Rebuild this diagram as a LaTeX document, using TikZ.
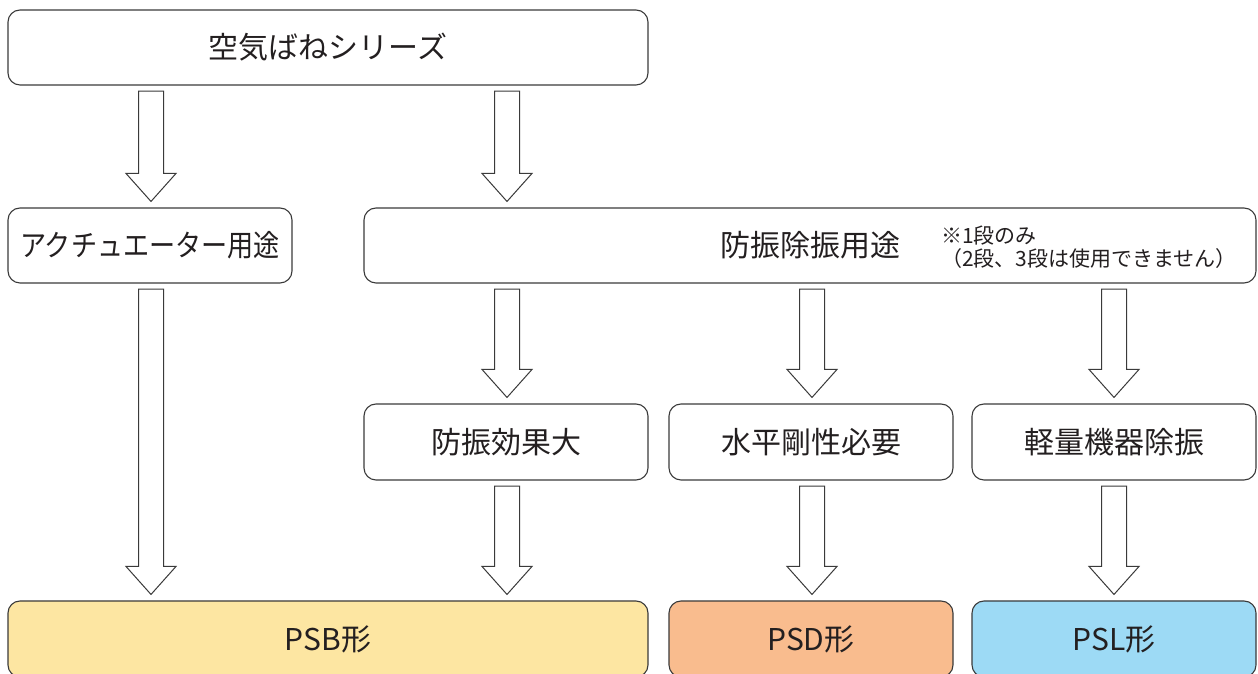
\documentclass[tikz,border=0pt]{standalone}
\usepackage{fontspec}
\setmainfont{Noto Sans CJK JP}
\usetikzlibrary{calc}
\definecolor{lineC}{HTML}{3A3A3A}
\definecolor{textC}{HTML}{231F20}
\definecolor{psbC}{HTML}{FDE6A2}
\definecolor{psdC}{HTML}{F9BC8E}
\definecolor{pslC}{HTML}{9DDAF5}
\tikzset{
  box/.style={draw=lineC, line width=1.1pt, rounded corners=12pt, inner sep=0pt,
    text=textC, font=\fontsize{30}{36}\selectfont, minimum height=75pt},
  wbox/.style={box, minimum width=284pt},
  barrowstyle/.style={draw=lineC, line width=1pt, fill=white, line join=miter},
}
\newcommand\barrow[3]{%
  \draw[barrowstyle] let \p1=(#2.south), \p2=(#3.north) in
   ({#1pt-12.5pt},{\y1-5.5pt}) -- ({#1pt+12.5pt},{\y1-5.5pt}) -- ({#1pt+12.5pt},{\y2+34pt})
   -- ({#1pt+25pt},{\y2+34pt}) -- (#1pt,{\y2+6pt}) -- ({#1pt-25pt},{\y2+34pt})
   -- ({#1pt-12.5pt},{\y2+34pt}) -- cycle;}
\begin{document}
\begin{tikzpicture}[x=1pt,y=1pt]
\useasboundingbox (0,0) rectangle (1258,674);
\clip (0,0) rectangle (1258,674);
% row 1
\node[box, minimum width=640pt] (top) at (328,626.5) {空気ばねシリーズ};
% row 2
\node[box, minimum width=284pt] (act) at (150,428.5) {\scalebox{0.87}[1]{アクチュエーター用途}};
\node[box, minimum width=892pt] (vib) at (810,428.5) {防振除振用途};
\node[anchor=north west, inner sep=0pt, align=left, text=textC,
  font=\fontsize{21}{22.5}\selectfont] (note) at (941,448) {※1段のみ\\（2段、3段は使用できません）};
% row 3
\node[wbox, minimum height=76pt] (eff) at (506,232) {防振効果大};
\node[wbox, minimum height=76pt] (hor) at (811,232) {水平剛性必要};
\node[wbox, minimum height=76pt] (lig) at (1114,232) {軽量機器除振};
% row 4
\node[box, minimum width=640pt, minimum height=76pt, fill=psbC] (psb) at (328,35) {PSB形};
\node[wbox, minimum height=76pt, fill=psdC] (psd) at (811,35) {PSD形};
\node[wbox, minimum height=76pt, fill=pslC] (psl) at (1114,35) {PSL形};
% arrows
\barrow{151}{top}{act}
\barrow{507}{top}{vib}
\barrow{151}{act}{psb}
\barrow{507}{vib}{eff}
\barrow{812}{vib}{hor}
\barrow{1114}{vib}{lig}
\barrow{507}{eff}{psb}
\barrow{812}{hor}{psd}
\barrow{1114}{lig}{psl}
\end{tikzpicture}
\end{document}
